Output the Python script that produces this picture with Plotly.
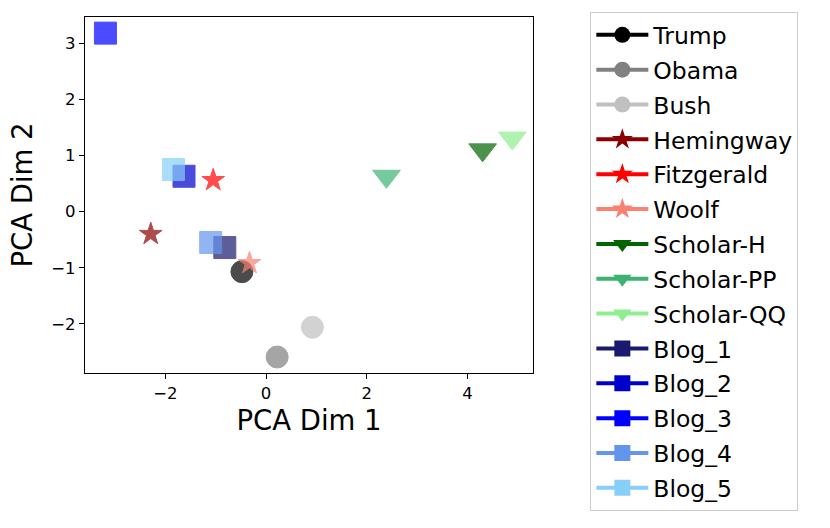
import plotly.graph_objects as go

names = ["Trump", "Obama", "Bush", "Hemingway", "Fitzgerald", "Woolf",
         "Scholar-H", "Scholar-PP", "Scholar-QQ",
         "Blog_1", "Blog_2", "Blog_3", "Blog_4", "Blog_5"]
pca_dim1 = [-0.48, 0.22, 0.92, -2.29, -1.05, -0.33,
            4.30, 2.39, 4.89,
            -0.82, -1.63, -3.19, -1.10, -1.84]
pca_dim2 = [-1.07, -2.59, -2.06, -0.40, 0.56, -0.92,
            1.10, 0.63, 1.31,
            -0.64, 0.63, 3.18, -0.55, 0.75]
colors = ["#000000", "#808080", "#c0c0c0", "#8b0000", "#ff0000", "#fa8072",
          "#006400", "#3cb371", "#90ee90",
          "#191970", "#0000cd", "#0000ff", "#6495ed", "#87cefa"]
symbols = ["circle"] * 3 + ["star"] * 3 + ["triangle-down"] * 3 + ["square"] * 5
sizes = {"circle": 22, "star": 17, "triangle-down": 24, "square": 22}
legend_sizes = {"circle": 16, "star": 16, "triangle-down": 16, "square": 16}

fig = go.Figure()
for n, x, y, c, s in zip(names, pca_dim1, pca_dim2, colors, symbols):
    fig.add_trace(go.Scatter(
        x=[x], y=[y], mode="markers", name=n, showlegend=False,
        opacity=0.7, hoverinfo="skip",
        marker=dict(symbol=s, size=sizes[s], color=c, line=dict(width=1, color=c)),
    ))
for n, c, s in zip(names, colors, symbols):
    fig.add_trace(go.Scatter(
        x=[None], y=[None], mode="lines+markers", name=n, legendgroup=n,
        line=dict(color=c, width=4),
        marker=dict(symbol=s, size=legend_sizes[s], color=c),
    ))

axis_common = dict(
    showgrid=False, zeroline=False, showline=True, linecolor="black",
    linewidth=1.3, mirror=True, ticks="outside", ticklen=5, tickwidth=1.2,
    tickcolor="black", tickfont=dict(family="DejaVu Sans", size=16.5, color="black"),
)

fig.update_layout(
    width=830, height=528,
    margin=dict(l=85, r=297, t=17, b=155),
    plot_bgcolor="white", paper_bgcolor="white",
    font=dict(family="DejaVu Sans", color="black"),
    xaxis=dict(range=[-3.596, 5.30], tickvals=[-2, 0, 2, 4],
               title=dict(text="PCA Dim 1", font=dict(size=27.5), standoff=8),
               **axis_common),
    yaxis=dict(range=[-2.875, 3.467], tickvals=[-2, -1, 0, 1, 2, 3],
               title=dict(text="PCA Dim 2", font=dict(size=27.5), standoff=10),
               **axis_common),
    legend=dict(x=1.128, y=1.014, xanchor="left", yanchor="top",
                bordercolor="#cccccc", borderwidth=1,
                font=dict(size=23.5, family="DejaVu Sans"),
                itemwidth=52, tracegroupgap=1.3, traceorder="grouped",
                maxheight=520),
)

fig.write_html("out.html", config={"displayModeBar": False},
               post_script="document.body.style.margin='0';")
